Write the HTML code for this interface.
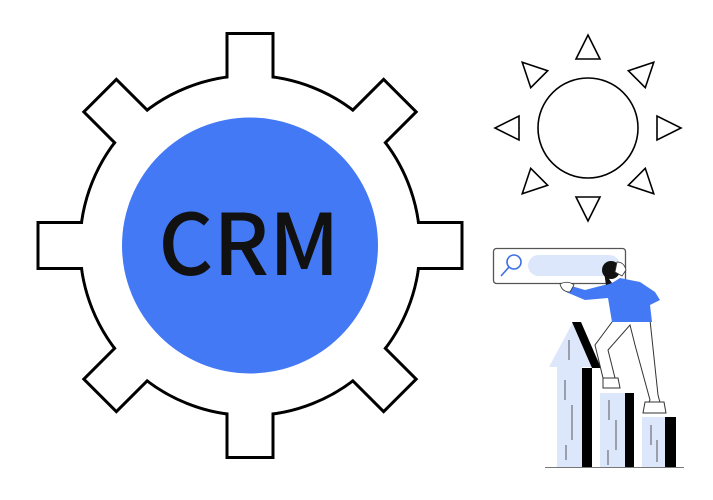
<!DOCTYPE html>
<html><head><style>html,body{margin:0;padding:0;background:#fff}svg{display:block}</style></head>
<body>
<svg width="713" height="500" viewBox="0 0 713 500" xmlns="http://www.w3.org/2000/svg">
<g transform="translate(250,245.5)" stroke="#000" stroke-width="3" stroke-linejoin="miter">
  <circle r="170" fill="#fff"/>
  <g fill="#fff">
    <rect x="-23" y="-212" width="46" height="56" transform="rotate(0)"/>
    <rect x="-23" y="-212" width="46" height="56" transform="rotate(45)"/>
    <rect x="-23" y="-212" width="46" height="56" transform="rotate(90)"/>
    <rect x="-23" y="-212" width="46" height="56" transform="rotate(135)"/>
    <rect x="-23" y="-212" width="46" height="56" transform="rotate(180)"/>
    <rect x="-23" y="-212" width="46" height="56" transform="rotate(225)"/>
    <rect x="-23" y="-212" width="46" height="56" transform="rotate(270)"/>
    <rect x="-23" y="-212" width="46" height="56" transform="rotate(315)"/>
  </g>
  <circle r="168.5" fill="#fff" stroke="none"/>
  <circle r="128" fill="#4479f5" stroke="none"/>
</g>
<text x="249" y="275" text-anchor="middle" font-family="Noto Sans CJK JP, Liberation Sans, sans-serif" font-weight="500" font-size="85" fill="#111">CRM</text>

<g transform="translate(588,128)" fill="#fff" stroke="#000" stroke-width="1.6" stroke-linejoin="miter">
  <circle r="50"/>
  <polygon points="-12,-69 12,-69 0,-93"/>
  <polygon points="-12,-69 12,-69 0,-93" transform="rotate(45)"/>
  <polygon points="-12,-69 12,-69 0,-93" transform="rotate(90)"/>
  <polygon points="-12,-69 12,-69 0,-93" transform="rotate(135)"/>
  <polygon points="-12,-69 12,-69 0,-93" transform="rotate(180)"/>
  <polygon points="-12,-69 12,-69 0,-93" transform="rotate(225)"/>
  <polygon points="-12,-69 12,-69 0,-93" transform="rotate(270)"/>
  <polygon points="-12,-69 12,-69 0,-93" transform="rotate(315)"/>
</g>

<rect x="493.5" y="248.5" width="132" height="35" rx="3" fill="#fff" stroke="#555" stroke-width="1.3"/>
<rect x="528" y="255" width="92" height="21" rx="10.5" fill="#dde7fb"/>
<circle cx="514" cy="262" r="7" fill="none" stroke="#3d6fe6" stroke-width="1.6"/>
<line x1="509" y1="267" x2="501" y2="276" stroke="#3d6fe6" stroke-width="1.6"/>

<polygon points="557,467 557,367 549,367 573,322 597,367 582,367 582,467" fill="#dde7fb"/>
<polygon points="572,322 581,322 601,368 592,368" fill="#000"/>
<rect x="582" y="368" width="10" height="99" fill="#000"/>
<rect x="600" y="393" width="25" height="74" fill="#dde7fb"/>
<rect x="625" y="393" width="9" height="74" fill="#000"/>
<rect x="642" y="417" width="23" height="50" fill="#dde7fb"/>
<rect x="665" y="417" width="11" height="50" fill="#000"/>
<g stroke="#333" stroke-width="0.8">
<line x1="569" y1="340" x2="569" y2="360"/><line x1="565" y1="380" x2="565" y2="400"/><line x1="572" y1="405" x2="572" y2="440"/><line x1="566" y1="445" x2="566" y2="460"/>
<line x1="609" y1="400" x2="609" y2="420"/><line x1="616" y1="420" x2="616" y2="450"/><line x1="608" y1="450" x2="608" y2="465"/>
<line x1="651" y1="425" x2="651" y2="445"/><line x1="657" y1="440" x2="657" y2="462"/>
</g>
<line x1="545" y1="467.5" x2="684" y2="467.5" stroke="#777" stroke-width="1"/>

<path d="M615,318 L595,345 L603,378 L615,378 L608,350 L630,325 L635,345 L650,400 L645,410 L662,410 L658,395 L650,320 Z" fill="#fff" stroke="#333" stroke-width="1"/>
<path d="M603,378 L618,378 L620,388 L603,388 Z M645,402 L664,402 L666,413 L643,413 Z" fill="#fff" stroke="#333" stroke-width="1"/>
<path d="M568,285 L585,290 L612,283 L620,278 L640,282 L655,292 L660,300 L650,305 L652,322 L612,322 L608,298 L585,300 L566,292 Z" fill="#4479f5"/>
<path d="M560,284 Q568,280 574,285 L570,292 Q562,292 560,284 Z" fill="#fff" stroke="#333" stroke-width="0.8"/>
<circle cx="611" cy="270" r="9" fill="#111"/>
<path d="M604,272 L612,283 L606,285 Z" fill="#111"/>
<path d="M617,262 Q624,262 626,270 L622,276 L615,272 Z" fill="#fff" stroke="#333" stroke-width="0.8"/>
</svg>
</body></html>
